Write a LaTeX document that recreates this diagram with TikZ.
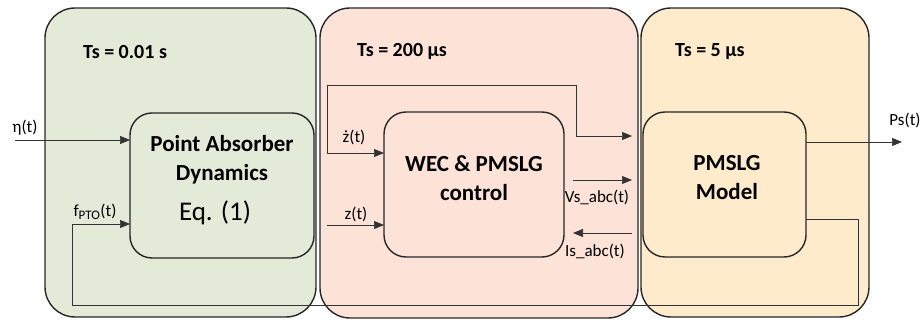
\documentclass[tikz,border=0pt]{standalone}
\usepackage{fontspec}
\setmainfont{Carlito}
\usetikzlibrary{arrows.meta}
\definecolor{gfill}{HTML}{E3EBD8}
\definecolor{pfill}{HTML}{FDE2D8}
\definecolor{yfill}{HTML}{FEEBCB}
\definecolor{lcol}{HTML}{333333}
\tikzset{
  outer/.style={draw=black!85, line width=1.4pt, rounded corners=30pt, inner sep=0pt},
  inner/.style={draw=black!85, line width=1.4pt, rounded corners=22pt, inner sep=0pt},
  ttl/.style={font=\fontsize{23}{29}\selectfont\bfseries, align=center},
  tslab/.style={font=\fontsize{20}{24}\selectfont\bfseries, anchor=west, inner sep=0pt},
  sig/.style={font=\fontsize{17}{20}\selectfont, inner sep=0pt},
  conn/.style={draw=lcol, line width=0.7pt},
  arr/.style={conn, -{Triangle[length=10pt,width=8pt]}}
}
\begin{document}
\begin{tikzpicture}[x=1pt,y=-1pt]
\useasboundingbox (0,0) rectangle (922,320);
% outer regions
\path[outer, fill=gfill] (45,8) rectangle (316,317);
\path[outer, fill=pfill] (320,8) rectangle (638,318);
\path[outer, fill=yfill] (641,8) rectangle (869,317);
\node[tslab] (ts1) at (83,52) {Ts = 0.01 s};
\node[tslab] (ts2) at (357,52) {Ts = 200 µs};
\node[tslab] (ts3) at (675,52) {Ts = 5 µs};
% inner boxes
\path[inner, fill=gfill] (130,113) rectangle (314,258);
\node[ttl] (pa) at (222,160) {Point Absorber\\Dynamics};
\node[font=\fontsize{27}{32}\selectfont] (eq) at (215,213) {Eq. (1)};
\path[inner, fill=pfill] (384,112) rectangle (564,257);
\node[ttl] (wec) at (474,178) {WEC \& PMSLG\\control};
\path[inner, fill=yfill] (643,112) rectangle (806,257);
\node[ttl] (pm) at (727,178) {PMSLG\\Model};
% coordinates
\coordinate (etaS) at (15,140);
\coordinate (etaE) at (130,140);
\coordinate (fE) at (130,224);
\coordinate (fC) at (72,224);
\coordinate (fB) at (72,305);
\coordinate (rB) at (858,305);
\coordinate (rT) at (858,219);
\coordinate (pmO) at (806,219);
\coordinate (zdS) at (327,153);
\coordinate (zdE) at (384,153);
\coordinate (tL) at (327,85);
\coordinate (tR) at (576,85);
\coordinate (tD) at (576,136);
\coordinate (tE) at (632,136);
\coordinate (zS) at (327,225);
\coordinate (zE) at (384,225);
\coordinate (vS) at (573,180);
\coordinate (vE) at (632,180);
\coordinate (iS) at (632,233);
\coordinate (iE) at (573,233);
\coordinate (pS) at (806,142);
\coordinate (pE) at (902,142);
% connectors
\draw[arr] (etaS) -- (etaE);
\draw[arr] (pmO) -- (rT) -- (rB) -- (fB) -- (fC) -- (fE);
\draw[arr] (zdS) -- (zdE);
\draw[arr] (zdS) -- (tL) -- (tR) -- (tD) -- (tE);
\draw[arr] (zS) -- (zE);
\draw[arr] (vS) -- (vE);
\draw[arr] (iS) -- (iE);
\draw[arr] (pS) -- (pE);
% labels
\node[sig] (leta) at (25,128) {η(t)};
\node[sig] (lf) at (95,212) {f\textsubscript{\fontsize{13}{14}\selectfont PTO}(t)};
\node[sig] (lzd) at (354,137) {ż(t)};
\node[sig] (lz) at (356,214) {z(t)};
\node[sig] (lv) at (597,197) {Vs\_abc(t)};
\node[sig] (li) at (595,251) {Is\_abc(t)};
\node[sig] (lp) at (905,120) {Ps(t)};
\end{tikzpicture}
\end{document}
